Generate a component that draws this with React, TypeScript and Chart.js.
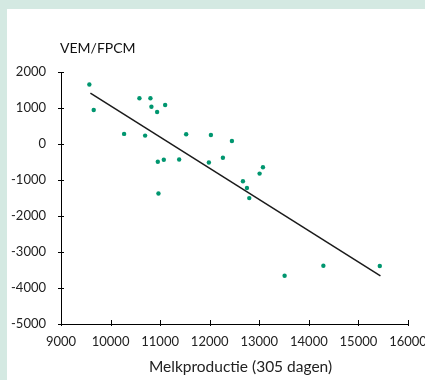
import React, { useEffect, useRef } from "react";
import { Chart, registerables } from "chart.js";

Chart.register(...registerables);

const xValues = [9572, 9660, 10582, 10804, 10824, 10939, 11101, 10273, 10697, 11525, 12024, 12448, 10953, 11074, 11384, 11983, 12266, 10966, 12670, 12751, 12798, 13006, 13074, 13511, 14293, 15431];
const yValues = [1653, 944, 1269, 1269, 1036, 888, 1084, 280, 233, 271, 252, 84, -495, -439, -429, -514, -383, -1373, -1036, -1223, -1503, -822, -644, -3660, -3380, -3389];
const trendX = [9593, 15444];
const trendY = [1410, -3660];
const yTitle = "VEM/FPCM";
const xTitle = "Melkproductie (305 dagen)";

const FONT = "Lato";

export default function App() {
  const ref = useRef<HTMLCanvasElement>(null);
  useEffect(() => {
    const canvas = ref.current!;
    const crossTicks = {
      id: "crossTicks",
      afterDraw(chart: any) {
        const ctx = chart.ctx;
        const xs = chart.scales.x;
        const ys = chart.scales.y;
        const ca = chart.chartArea;
        ctx.save();
        ctx.strokeStyle = "#000";
        ctx.lineWidth = 1;
        ctx.beginPath();
        xs.ticks.forEach((t: any) => {
          const px = Math.round(xs.getPixelForValue(t.value)) + 0.5;
          ctx.moveTo(px, ca.bottom - 4);
          ctx.lineTo(px, ca.bottom + 2);
        });
        ys.ticks.forEach((t: any) => {
          const py = Math.round(ys.getPixelForValue(t.value)) + 0.5;
          ctx.moveTo(ca.left - 3, py);
          ctx.lineTo(ca.left + 3, py);
        });
        ctx.stroke();
        ctx.fillStyle = "#111";
        ctx.font = `14px ${FONT}`;
        ctx.textBaseline = "middle";
        ctx.textAlign = "left";
        ctx.fillText(yTitle, ca.left - 1, 39);
        ctx.fillStyle = "#222";
        ctx.font = `15.5px ${FONT}`;
        ctx.textAlign = "center";
        ctx.fillText(xTitle, (ca.left + ca.right) / 2 + 6, 358);
        ctx.restore();
      },
    };
    const fmt = (v: any) => String(v);
    const chart = new Chart(canvas, {
      type: "scatter",
      data: {
        datasets: [
          {
            data: xValues.map((x, i) => ({ x, y: yValues[i] })),
            backgroundColor: "#00966f",
            borderColor: "#00966f",
            pointRadius: 2.2,
            pointBorderWidth: 0,
          },
          {
            type: "line",
            data: trendX.map((x, i) => ({ x, y: trendY[i] })),
            borderColor: "#1a1a1a",
            borderWidth: 1.5,
            pointRadius: 0,
            showLine: true,
            fill: false,
          } as any,
        ],
      },
      options: {
        responsive: false,
        animation: false,
        layout: { padding: { top: 63, right: 17, left: 0, bottom: 0 } },
        plugins: { legend: { display: false }, tooltip: { enabled: false }, title: { display: false } },
        scales: {
          x: {
            type: "linear",
            min: 9000,
            max: 16000,
            ticks: { stepSize: 1000, color: "#222", font: { family: FONT, size: 13 }, padding: 10, maxRotation: 0, callback: fmt },
            grid: { display: false, drawTicks: false },
            border: { display: true, color: "#000", width: 1 },
            title: { display: false },
            afterFit: (s: any) => {
              s.height = 56;
              s.paddingLeft = 0;
              s.paddingRight = 0;
            },
          },
          y: {
            type: "linear",
            min: -5000,
            max: 2000,
            ticks: { stepSize: 1000, color: "#222", font: { family: FONT, size: 13 }, padding: 15, callback: fmt },
            grid: { display: false, drawTicks: false },
            border: { display: true, color: "#000", width: 1 },
            afterFit: (s: any) => {
              s.width = 54;
              s.paddingTop = 0;
              s.paddingBottom = 0;
            },
          },
        },
      },
      plugins: [crossTicks],
    });
    return () => chart.destroy();
  }, []);
  return (
    <div style={{ position: "fixed", inset: 0, background: "#d4e9e2", overflow: "hidden" }}>
      <div style={{ position: "absolute", left: 7, top: 9, right: 0, bottom: 0, background: "#fff" }}>
        <canvas ref={ref} width={418} height={371} style={{ display: "block" }} />
      </div>
    </div>
  );
}
